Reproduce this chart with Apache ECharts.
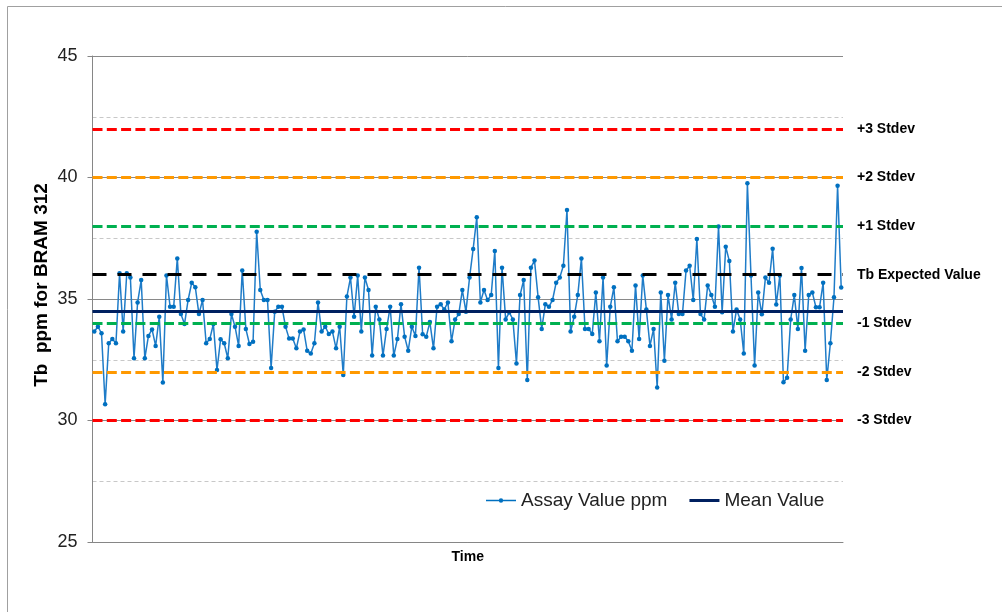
<!DOCTYPE html>
<html>
<head>
<meta charset="utf-8">
<script src="https://cdn.jsdelivr.net/npm/echarts/dist/echarts.min.js"></script>
<style>
  html, body { margin: 0; padding: 0; background: #fff; }
  #chart { width: 1002px; height: 612px; }
</style>
</head>
<body>
<div id="chart"></div>
<script>
// assay values, in time order
let assayValues = [
    33.66, 33.86, 33.59, 30.67, 33.18, 33.35, 33.18, 36.06, 33.66, 36.06, 35.88, 32.56, 34.86, 35.78, 32.56, 33.48, 33.75, 33.07, 34.27, 31.56,
    35.97, 34.68, 34.68, 36.67, 34.38, 33.97, 34.96, 35.67, 35.48, 34.38, 34.96, 33.18, 33.35, 33.97, 32.08,
    33.34, 33.18, 32.56, 34.38, 33.86, 33.07, 36.17, 33.77, 33.15, 33.24, 37.77, 35.37, 34.96, 34.96, 32.16, 34.48, 34.68, 34.68, 33.86, 33.37,
    33.37, 32.97, 33.66, 33.75, 32.87, 32.76, 33.18, 34.86, 33.66, 33.86, 33.56, 33.66, 32.97, 33.86, 31.87,
    35.10, 35.88, 34.27, 35.97, 33.66, 35.88, 35.37, 32.67, 34.68, 34.16, 32.67, 33.77, 34.68, 32.67, 33.35, 34.78, 33.45, 32.87, 33.86, 33.48,
    36.29, 33.55, 33.45, 34.05, 32.97, 34.68, 34.78, 34.57, 34.86, 33.26, 34.16, 34.38, 35.37, 34.48,
    35.88, 37.06, 38.36, 34.86, 35.37, 34.96, 35.16, 36.98, 32.16, 36.29, 34.16, 34.45, 34.16, 32.35, 35.16, 35.78, 31.67, 36.29, 36.58, 35.07,
    33.77, 34.78, 34.68, 34.96, 35.67, 35.88, 36.37, 38.66, 33.66, 34.27, 35.16, 36.67, 33.77, 33.77, 33.56,
    35.27, 33.26, 35.88, 32.26, 34.68, 35.48, 33.26, 33.45, 33.45, 33.26, 32.87, 35.56, 33.35, 35.97, 34.57, 33.07, 33.77, 31.36, 35.27, 32.46,
    35.16, 34.16, 35.67, 34.38, 34.38, 36.17, 36.37, 34.96, 37.47, 34.38, 34.16, 35.56, 35.16, 34.68, 37.98,
    34.45, 37.15, 36.56, 33.66, 34.57, 34.16, 32.76, 39.76, 35.97, 32.26, 35.27, 34.37, 35.88, 35.67, 37.07, 34.77, 35.97, 31.57, 31.76, 34.16,
    35.16, 33.77, 36.28, 32.87, 35.16, 35.27, 34.66, 34.66, 35.67, 31.67, 33.18, 35.07, 39.66, 35.47
];
let timeCategories = assayValues.map((v, i) => i + 1);

let meanValue = 34.5;

// control limits
let limitNames = ['+3 Stdev', '+2 Stdev', '+1 Stdev', 'Tb Expected Value', '-1 Stdev', '-2 Stdev', '-3 Stdev'];
let limitValues = [42, 40, 38, 36, 34, 32, 30];

let yTicks = [25, 30, 35, 40, 45];

// styles
const lineColors = ['#FF0000', '#FF9900', '#00B050', '#000000', '#00B050', '#FF9900', '#FF0000'];
const font = 'Liberation Sans, Arial, sans-serif';

let chart = echarts.init(document.getElementById('chart'));

let limitLines = limitValues.map((v, i) => ({
    yAxis: v,
    lineStyle: {
        color: lineColors[i],
        width: 3,
        type: i === 3 ? [14, 11] : [10, 4.3]
    },
    label: {formatter: limitNames[i]}
}));

let option = {
    animation: false,
    graphic: [
        {
            type: 'rect',
            shape: {x: 7.5, y: 6.5, width: 1100, height: 700},
            style: {fill: 'none', stroke: '#A0A0A0', lineWidth: 1},
            silent: true
        },
        {
            type: 'text',
            x: 42,
            y: 285,
            rotation: Math.PI / 2,
            style: {
                text: 'Tb  ppm for BRAM 312',
                font: 'bold 19px ' + font,
                fill: '#000',
                textAlign: 'center',
                textVerticalAlign: 'middle'
            }
        }
    ],
    grid: {left: 92.5, right: 159, top: 56, bottom: 70},
    legend: {
        data: [
            {name: 'Assay Value ppm', icon: 'path://M0,0L0.01,0M0,4.3L13,4.3L13,5.7L0,5.7ZM17,4.3L30,4.3L30,5.7L17,5.7ZM12.8,5A2.2,2.2 0 1 1 17.2,5A2.2,2.2 0 1 1 12.8,5ZM30,10L29.99,10'},
            {name: 'Mean Value', icon: 'path://M0,0L0.01,0M0,3.6L30,3.6L30,6.6L0,6.6ZM30,10L29.99,10'}
        ],
        left: 481,
        top: 486,
        itemWidth: 30,
        itemHeight: 10,
        itemGap: 22,
        textStyle: {fontFamily: font, fontSize: 19, color: '#222'}
    },
    xAxis: {
        type: 'category',
        data: timeCategories,
        boundaryGap: true,
        name: 'Time',
        nameLocation: 'middle',
        nameGap: 8,
        nameTextStyle: {fontFamily: font, fontSize: 14, fontWeight: 'bold', color: '#000'},
        axisLine: {lineStyle: {color: '#868686', width: 1}},
        axisTick: {show: false},
        axisLabel: {show: false}
    },
    yAxis: {
        type: 'value',
        min: yTicks[0],
        max: yTicks[yTicks.length - 1],
        interval: 5,
        axisLine: {show: true, lineStyle: {color: '#868686', width: 1}},
        axisTick: {show: true, length: 5, lineStyle: {color: '#868686'}},
        axisLabel: {margin: 15, fontFamily: font, fontSize: 18, color: '#222'},
        splitLine: {show: true, lineStyle: {color: '#898989', width: 1}},
        minorTick: {show: false, splitNumber: 2},
        minorSplitLine: {show: true, lineStyle: {color: '#C8C8C8', width: 1, type: [4, 3]}}
    },
    series: [
        {
            name: 'Limits',
            type: 'line',
            data: [],
            z: 2,
            markLine: {
                silent: true,
                symbol: ['none', 'none'],
                label: {
                    show: true,
                    position: 'end',
                    distance: 14,
                    color: '#000',
                    fontFamily: font,
                    fontSize: 14,
                    fontWeight: 'bold'
                },
                data: limitLines
            }
        },
        {
            name: 'Mean Value',
            type: 'line',
            data: [],
            z: 3,
            symbol: 'none',
            itemStyle: {color: '#002060'},
            lineStyle: {color: '#002060', width: 3},
            markLine: {
                silent: true,
                symbol: ['none', 'none'],
                label: {show: false},
                lineStyle: {color: '#002060', width: 3, type: 'solid'},
                data: [{yAxis: meanValue}]
            }
        },
        {
            name: 'Assay Value ppm',
            type: 'line',
            data: assayValues,
            z: 4,
            symbol: 'circle',
            symbolSize: 4.5,
            showAllSymbol: true,
            itemStyle: {color: '#0070C0'},
            lineStyle: {color: '#1F7CC8', width: 1.5}
        }
    ]
};

chart.setOption(option);
</script>
</body>
</html>
